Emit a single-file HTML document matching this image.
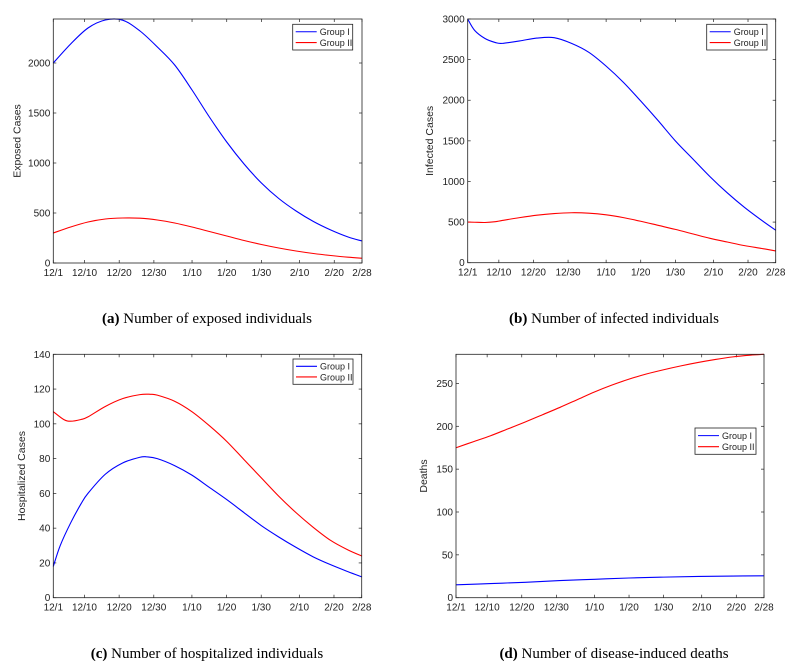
<!DOCTYPE html>
<html><head><meta charset="utf-8">
<style>
body{margin:0;background:#fff;}
svg text{font-family:"Liberation Sans",sans-serif;}
.cap{font-family:"Liberation Serif",serif;font-size:15px;}
</style></head>
<body>
<svg id="c" width="796" height="665" xmlns="http://www.w3.org/2000/svg">
<text class="cap" x="207" y="323" text-anchor="middle"><tspan font-weight="bold">(a)</tspan> Number of exposed individuals</text>
<text class="cap" x="614" y="323" text-anchor="middle"><tspan font-weight="bold">(b)</tspan> Number of infected individuals</text>
<text class="cap" x="207" y="658" text-anchor="middle"><tspan font-weight="bold">(c)</tspan> Number of hospitalized individuals</text>
<text class="cap" x="614" y="658" text-anchor="middle"><tspan font-weight="bold">(d)</tspan> Number of disease-induced deaths</text>
</svg>
<script>
const xTickDays=[0,9,19,29,40,50,60,71,81,89];
const xTickLabels=["12/1","12/10","12/20","12/30","1/10","1/20","1/30","2/10","2/20","2/28"];
const daysA=[0,5,10,15,20,25,30,35,40,45,50,55,60,65,70,75,80,85,89];
const aGroup1=[2000,2190,2350,2430,2428,2320,2160,1980,1730,1460,1210,990,800,645,520,415,330,260,220];
const aGroup2=[300,360,410,440,450,448,430,400,360,315,270,225,185,150,120,95,75,58,48];
const daysB=[0,2,5,8,10,15,20,25,30,35,40,45,50,55,60,65,70,75,80,85,89];
const bGroup1=[3000,2860,2760,2710,2700,2730,2765,2770,2700,2590,2420,2220,1990,1750,1500,1280,1060,860,680,520,400];
const bGroup2=[500,498,495,505,520,555,585,605,615,610,590,555,510,460,410,355,300,255,210,175,145];
const daysC1=[0,2,5,8,10,15,20,25,27,30,35,40,45,50,55,60,65,70,75,80,85,89];
const cGroup1=[18,30,43,54,60,71,77.5,80.8,81,80,76,70.5,63.5,56.5,49,41.5,35,29,23.5,19,15,12];
const daysC2=[0,3,5,8,10,15,20,25,28,30,35,40,45,50,55,60,65,70,75,80,85,89];
const cGroup2=[107,102.5,101.5,102.5,104,110,114.5,116.8,117,116.5,113,107,99,90,79.5,69,58.5,49,40.5,33,27.5,24];
const daysD1=[0,10,20,30,40,50,60,70,80,89];
const dGroup1=[15,16.5,18,20,21.5,23,24,24.8,25.3,25.5];
const daysD2=[0,5,10,15,20,25,30,35,40,45,50,55,60,65,70,75,80,85,89];
const dGroup2=[175,182,189,197,205,213.5,222,231,240,248,255,261,266,270.5,274.5,278,281,283,284];
const yTicksA=[0,500,1000,1500,2000];
const yTicksB=[0,500,1000,1500,2000,2500,3000];
const yTicksC=[0,20,40,60,80,100,120,140];
const yTicksD=[0,50,100,150,200,250];

const NS="http://www.w3.org/2000/svg";
const svg=document.getElementById('c');
function mk(t,a,p){const e=document.createElementNS(NS,t);for(const k in a)e.setAttribute(k,a[k]);(p||svg).appendChild(e);return e;}

function panel(id,L,R,T,B,ymax,yTicks,ylab,ylabX,series,leg){
  const g=mk('g',{});
  
  
  const sx=d=>L+d/89*(R-L);
  const sy=v=>B-v/ymax*(B-T);
  xTickDays.forEach((d,i)=>{
    const x=sx(d);
    mk('line',{x1:x,x2:x,y1:B,y2:B-3,stroke:'#222','stroke-width':0.7},g);
    mk('line',{x1:x,x2:x,y1:T,y2:T+3,stroke:'#222','stroke-width':0.7},g);
    const t=mk('text',{x:x,y:B+13,'font-size':10,'text-anchor':'middle',fill:'#222'},g);
    t.textContent=xTickLabels[i];
    
    
  });
  yTicks.forEach(v=>{
    const y=sy(v);
    mk('line',{x1:L,x2:L+3,y1:y,y2:y,stroke:'#222','stroke-width':0.7},g);
    mk('line',{x1:R,x2:R-3,y1:y,y2:y,stroke:'#222','stroke-width':0.7},g);
    const t=mk('text',{x:L-3,y:y+3.5,'font-size':10,'text-anchor':'end',fill:'#222'},g);
    t.textContent=v;
    
    
  });
  const yl=mk('text',{x:ylabX,y:(T+B)/2,'font-size':10.5,'text-anchor':'middle',fill:'#222',transform:`rotate(-90 ${ylabX} ${(T+B)/2})`},g);
  yl.textContent=ylab;
  
  
  series.forEach(s=>{
    const pts=s.days.map((d,i)=>[sx(d),sy(s.vals[i])]);
    let dstr=`M${pts[0][0]},${pts[0][1]}`;
    for(let i=0;i<pts.length-1;i++){
      const p0=pts[Math.max(0,i-1)],p1=pts[i],p2=pts[i+1],p3=pts[Math.min(pts.length-1,i+2)];
      const c1=[p1[0]+(p2[0]-p0[0])/6,p1[1]+(p2[1]-p0[1])/6];
      const c2=[p2[0]-(p3[0]-p1[0])/6,p2[1]-(p3[1]-p1[1])/6];
      dstr+=`C${c1[0]},${c1[1]} ${c2[0]},${c2[1]} ${p2[0]},${p2[1]}`;
    }
    const p=mk('path',{d:dstr,fill:'none',stroke:s.color,'stroke-width':1.1},g);
    
    
  });
  mk('rect',{x:L,y:T,width:R-L,height:B-T,fill:'none',stroke:'#222','stroke-width':0.8},g);
  const lg=mk('g',{},g);
  
  
  mk('rect',{x:leg[0],y:leg[1],width:leg[2],height:leg[3],fill:'#fff',stroke:'#222','stroke-width':0.8},lg);
  [['Group I','#0000ff'],['Group II','#ff0000']].forEach((e,i)=>{
    const y=leg[1]+leg[3]*(0.29+0.42*i);
    mk('line',{x1:leg[0]+3,x2:leg[0]+24,y1:y,y2:y,stroke:e[1],'stroke-width':1.1},lg);
    const t=mk('text',{x:leg[0]+27,y:y+3.3,'font-size':9,fill:'#222'},lg);
    t.textContent=e[0];
    
    
  });
}
panel('a',53.3,362,19,263,2440,yTicksA,'Exposed Cases',20.7,
  [{days:daysA,vals:aGroup1,color:'#0000ff',name:'group-i-line'},{days:daysA,vals:aGroup2,color:'#ff0000',name:'group-ii-line'}],[292.7,24.3,60,25.7]);
panel('b',467.7,775.7,19,262.7,3000,yTicksB,'Infected Cases',433,
  [{days:daysB,vals:bGroup1,color:'#0000ff',name:'group-i-line'},{days:daysB,vals:bGroup2,color:'#ff0000',name:'group-ii-line'}],[706.7,24.3,60.3,25.7]);
panel('c',53.3,361.7,354.3,597.7,140,yTicksC,'Hospitalized Cases',25,
  [{days:daysC1,vals:cGroup1,color:'#0000ff',name:'group-i-line'},{days:daysC2,vals:cGroup2,color:'#ff0000',name:'group-ii-line'}],[293,359,60,25.3]);
panel('d',456,764,354.3,597.7,284,yTicksD,'Deaths',427,
  [{days:daysD1,vals:dGroup1,color:'#0000ff',name:'group-i-line'},{days:daysD2,vals:dGroup2,color:'#ff0000',name:'group-ii-line'}],[695,428,61,26.3]);
</script>
</body></html>
